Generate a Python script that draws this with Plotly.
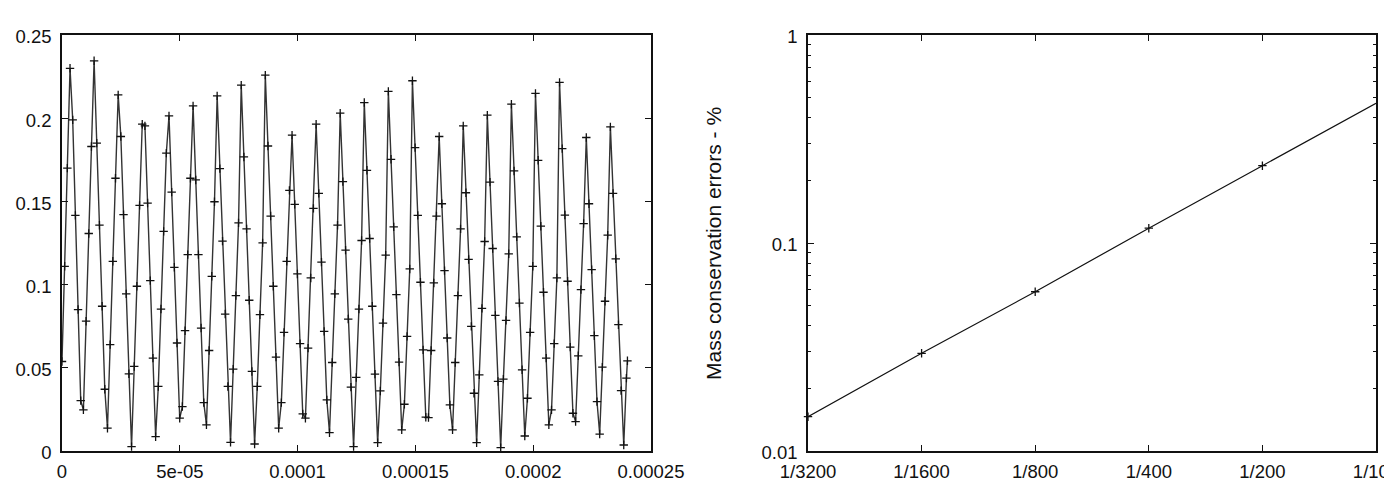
import math
import plotly.graph_objects as go

# ---------------- Left panel data (time series) ----------------
T_STEP = 1.1354e-6
T_END = 2.4e-4
signal = [
    0.0538, 0.111, 0.170, 0.230, 0.199, 0.1416, 0.085, 0.0303, 0.0247, 0.078,
    0.1307, 0.183, 0.2345, 0.185, 0.1357, 0.087, 0.0371, 0.0137, 0.0639, 0.114,
    0.1639, 0.214, 0.189, 0.142, 0.0944, 0.0464, 0.0026, 0.0508, 0.099, 0.1476,
    0.1964, 0.1954, 0.149, 0.1024, 0.0558, 0.0086, 0.0388, 0.0853, 0.132, 0.179,
    0.2014, 0.1556, 0.1104, 0.0649, 0.0197, 0.0267, 0.0723, 0.118, 0.1639, 0.2074,
    0.1629, 0.118, 0.0739, 0.0291, 0.0157, 0.0604, 0.105, 0.1498, 0.2134, 0.1697,
    0.1261, 0.0823, 0.0388, 0.0052, 0.0492, 0.0934, 0.1371, 0.2199, 0.1767, 0.1335,
    0.0906, 0.0478, 0.0042, 0.0388, 0.0819, 0.1251, 0.2259, 0.1833, 0.1412, 0.099,
    0.0564, 0.0137, 0.0291, 0.0713, 0.114, 0.1566, 0.1898, 0.1482, 0.1064, 0.0645,
    0.0223, 0.0197, 0.0618, 0.104, 0.1458, 0.1964, 0.1548, 0.1135, 0.0719, 0.0307,
    0.011, 0.0532, 0.0944, 0.1357, 0.203, 0.1619, 0.1207, 0.0793, 0.0384, 0.0026,
    0.0442, 0.0853, 0.1265, 0.2094, 0.1687, 0.1277, 0.087, 0.0462, 0.005, 0.0361,
    0.0769, 0.1177, 0.2161, 0.1753, 0.1347, 0.094, 0.0534, 0.0127, 0.0281, 0.0689,
    0.1094, 0.2225, 0.1823, 0.1416, 0.1014, 0.0608, 0.0203, 0.0201, 0.0604, 0.101,
    0.1412, 0.189, 0.1486, 0.1084, 0.0679, 0.0277, 0.0127, 0.0532, 0.0934, 0.1335,
    0.1954, 0.1552, 0.1151, 0.0749, 0.0347, 0.005, 0.0458, 0.0857, 0.1259, 0.2018,
    0.1616, 0.1217, 0.0815, 0.0418, 0.002, 0.0432, 0.0785, 0.1185, 0.2084, 0.1683,
    0.1287, 0.0889, 0.0488, 0.009, 0.0317, 0.0713, 0.111, 0.2149, 0.1747, 0.1351,
    0.0954, 0.0558, 0.0157, 0.0247, 0.0645, 0.104, 0.2215, 0.1817, 0.1418, 0.102,
    0.0624, 0.0227, 0.0177, 0.0572, 0.097, 0.1367, 0.1884, 0.1486, 0.109, 0.0693,
    0.0297, 0.0102, 0.0504, 0.09, 0.1297, 0.1948, 0.1548, 0.1155, 0.0759, 0.0363,
    0.0036, 0.0438, 0.0542,
]
times = [i * T_STEP for i in range(len(signal) - 1)] + [T_END]

left_x_ticks = [0, 5e-05, 1e-04, 1.5e-04, 2e-04, 2.5e-04]
left_x_labels = ["0", "5e-05", "0.0001", "0.00015", "0.0002", "0.00025"]
left_y_ticks = [0, 0.05, 0.1, 0.15, 0.2, 0.25]
left_y_labels = ["0", "0.05", "0.1", "0.15", "0.2", "0.25"]

# ---------------- Right panel data (convergence) ----------------
h_values = [1 / 3200, 1 / 1600, 1 / 800, 1 / 400, 1 / 200, 1 / 100]
h_labels = ["1/3200", "1/1600", "1/800", "1/400", "1/200", "1/100"]
mass_errors = [0.01462, 0.0295, 0.0583, 0.1178, 0.2353, 0.4695]
right_y_ticks = [0.01, 0.1, 1]
right_y_labels = ["0.01", "0.1", "1"]
right_y_minor = [0.02, 0.03, 0.04, 0.05, 0.06, 0.07, 0.08, 0.09,
                 0.2, 0.3, 0.4, 0.5, 0.6, 0.7, 0.8, 0.9]
y_title = "Mass conservation errors - %"

W, H = 1384, 484
FONT = "Liberation Sans, Arial, Helvetica, sans-serif"
INK = "#111111"

fig = go.Figure()

marker = dict(symbol="cross-thin", size=6, line=dict(width=1.3, color=INK), color=INK)

fig.add_trace(go.Scatter(
    x=times, y=signal, mode="lines+markers",
    line=dict(color="#333333", width=1.4),
    marker=marker, xaxis="x", yaxis="y", showlegend=False,
))
fig.add_trace(go.Scatter(
    x=h_values, y=mass_errors, mode="lines+markers",
    line=dict(color=INK, width=1.2),
    marker=marker, xaxis="x2", yaxis="y2", showlegend=False, cliponaxis=False,
))

def px_dom(a, b, total):
    return [a / total, b / total]

ydom = [1 - 451 / H, 1 - 35 / H]

axis_common = dict(
    showline=True, linecolor=INK, linewidth=1.5, mirror="allticks",
    ticks="inside", ticklen=6, tickwidth=1.2, tickcolor=INK,
    showgrid=False, zeroline=False, automargin=False,
    ticklabeloverflow="allow",
    tickfont=dict(family=FONT, size=18.5, color=INK),
)
x_extra = dict(ticklabelstandoff=3)
y_extra = dict(ticklabelstandoff=5, ticklabelshift=2)

fig.update_layout(
    width=W, height=H,
    margin=dict(l=0, r=0, t=0, b=0),
    paper_bgcolor="white", plot_bgcolor="white",
    xaxis=dict(domain=px_dom(62, 651, W), range=[0, 2.5e-4],
               tickvals=left_x_ticks, ticktext=left_x_labels, anchor="y",
               **axis_common, **x_extra),
    yaxis=dict(domain=ydom, range=[0, 0.25],
               tickvals=left_y_ticks, ticktext=left_y_labels, anchor="x",
               **axis_common, **y_extra),
    xaxis2=dict(domain=px_dom(808, 1376, W), type="log",
                range=[math.log10(h_values[0]), math.log10(h_values[-1])],
                tickvals=h_values, ticktext=h_labels, anchor="y2",
                **axis_common, **x_extra),
    yaxis2=dict(domain=ydom, type="log", range=[-2, 0],
                tickvals=right_y_ticks, ticktext=right_y_labels, anchor="x2",
                minor=dict(tickvals=right_y_minor, ticks="inside", ticklen=3,
                           tickwidth=1, tickcolor=INK, showgrid=False),
                **axis_common, **y_extra),
    annotations=[dict(
        text=y_title, textangle=-90, showarrow=False,
        xref="paper", yref="paper", x=713.5 / W, y=1 - 243.5 / H,
        xanchor="center", yanchor="middle",
        font=dict(family=FONT, size=21, color=INK),
    )],
)

fig.write_html("out.html")
